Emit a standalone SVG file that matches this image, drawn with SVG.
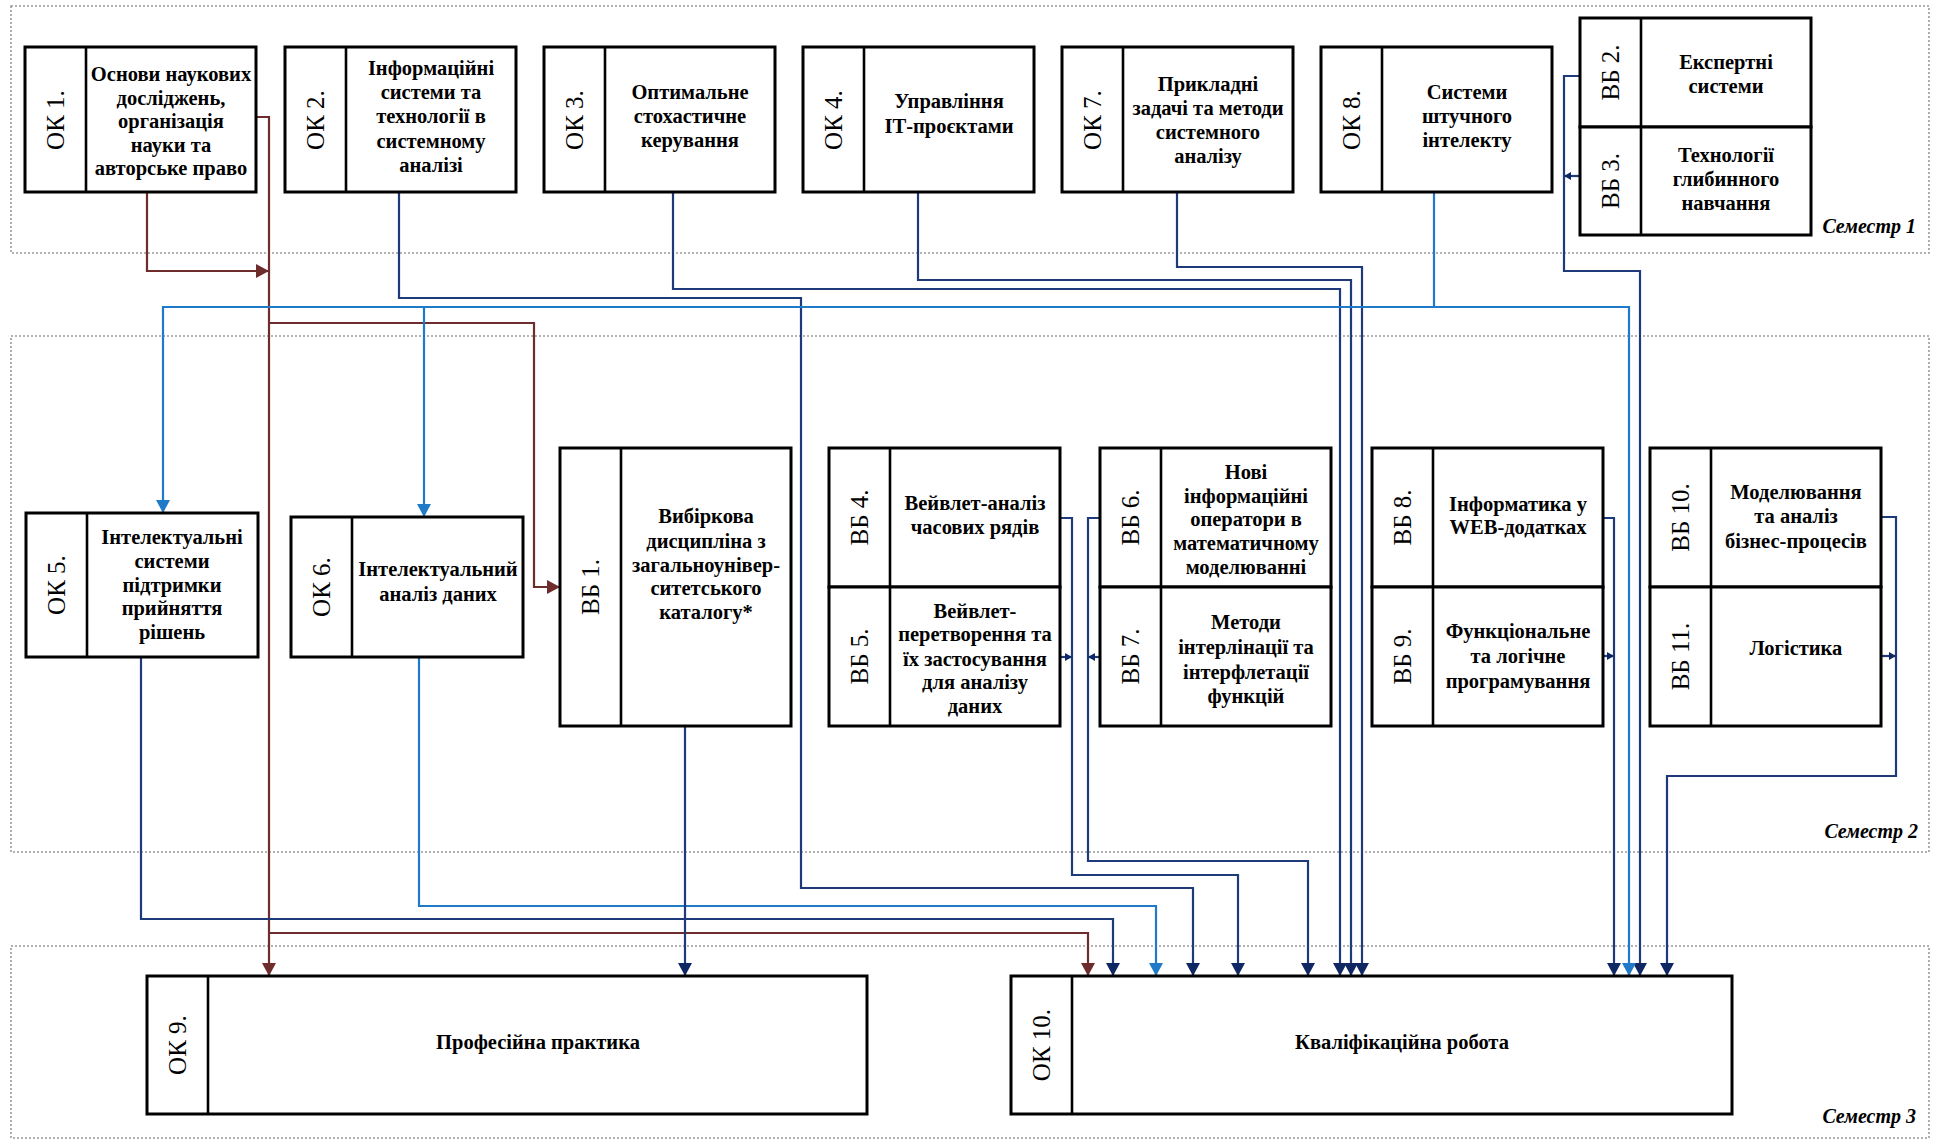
<svg xmlns="http://www.w3.org/2000/svg" width="1934" height="1140" viewBox="0 0 1934 1140">
<style>
.sem{fill:none;stroke:#9a9a9a;stroke-width:1.6;stroke-dasharray:2 2}
.semt{font-family:"Liberation Serif","Times New Roman","DejaVu Serif",serif;font-style:italic;font-weight:bold;font-size:20px;fill:#000;text-anchor:end}
.box{fill:#fff;stroke:#000;stroke-width:3}
.div{stroke:#000;stroke-width:2.6}
.t{font-family:"Liberation Serif","Times New Roman","DejaVu Serif",serif;font-weight:bold;font-size:20.5px;fill:#000;text-anchor:middle}
.lb{font-family:"Liberation Serif","Times New Roman","DejaVu Serif",serif;font-size:25px;fill:#000;text-anchor:middle}
.c{fill:none;stroke-width:2.2}
.br{stroke:#6f2c2c}
.nv{stroke:#1f3a78}
.lbl{stroke:#1f7bc8}
</style>
<defs>
<marker id="aBr" markerUnits="userSpaceOnUse" markerWidth="14" markerHeight="14" refX="13" refY="7" orient="auto"><path d="M0,0 L13,7 L0,14 z" fill="#6f2c2c"/></marker>
<marker id="aNv" markerUnits="userSpaceOnUse" markerWidth="14" markerHeight="14" refX="13" refY="7" orient="auto"><path d="M0,0 L13,7 L0,14 z" fill="#0f2763"/></marker>
<marker id="aLb" markerUnits="userSpaceOnUse" markerWidth="14" markerHeight="14" refX="13" refY="7" orient="auto"><path d="M0,0 L13,7 L0,14 z" fill="#1f7bc8"/></marker>
<marker id="sNv" markerUnits="userSpaceOnUse" markerWidth="8" markerHeight="8" refX="7" refY="4" orient="auto"><path d="M0,0 L7,4 L0,8 z" fill="#0f2763"/></marker>
</defs>

<g id="semesters">
<rect class="sem" x="11" y="6" width="1918" height="247"/>
<rect class="sem" x="11" y="336" width="1918" height="516"/>
<rect class="sem" x="11" y="946" width="1918" height="192"/>
<text class="semt" x="1916" y="233">Семестр 1</text>
<text class="semt" x="1918" y="838">Семестр 2</text>
<text class="semt" x="1916" y="1123">Семестр 3</text>
</g>

<g id="connectors">
<path class="c br" d="M147,192 V271 H269" marker-end="url(#aBr)"/>
<path class="c br" d="M257,117 H269 V976" marker-end="url(#aBr)"/>
<path class="c br" d="M269,323 H534 V587 H560" marker-end="url(#aBr)"/>
<path class="c br" d="M269,933 H1088 V976" marker-end="url(#aBr)"/>

<path class="c nv" d="M399,192 V298 H801 V888 H1193 V976" marker-end="url(#aNv)"/>
<path class="c nv" d="M673,192 V289 H1340 V976" marker-end="url(#aNv)"/>
<path class="c nv" d="M918,192 V280 H1351 V976" marker-end="url(#aNv)"/>
<path class="c nv" d="M1177,192 V267 H1362 V976" marker-end="url(#aNv)"/>
<path class="c nv" d="M1580,76 H1564 V271 H1640 V976" marker-end="url(#aNv)"/>
<path class="c nv" d="M1580,176 H1564" marker-end="url(#sNv)"/>

<path class="c lbl" d="M1434,192 V307 H163 V513" marker-end="url(#aLb)"/>
<path class="c lbl" d="M424,307 V517" marker-end="url(#aLb)"/>
<path class="c lbl" d="M1434,307 H1629 V976" marker-end="url(#aLb)"/>
<path class="c lbl" d="M419,657 V906 H1156 V976" marker-end="url(#aLb)"/>

<path class="c nv" d="M141,657 V919 H1113 V976" marker-end="url(#aNv)"/>
<path class="c nv" d="M685,726 V976" marker-end="url(#aNv)"/>
<path class="c nv" d="M1060,518 H1072 V875 H1238 V976" marker-end="url(#aNv)"/>
<path class="c nv" d="M1060,657 H1072" marker-end="url(#sNv)"/>
<path class="c nv" d="M1100,518 H1088 V861 H1308 V976" marker-end="url(#aNv)"/>
<path class="c nv" d="M1100,657 H1088" marker-end="url(#sNv)"/>
<path class="c nv" d="M1603,518 H1614 V976" marker-end="url(#aNv)"/>
<path class="c nv" d="M1603,656 H1614" marker-end="url(#sNv)"/>
<path class="c nv" d="M1881,517 H1896 V776 H1667 V976" marker-end="url(#aNv)"/>
<path class="c nv" d="M1881,656 H1896" marker-end="url(#sNv)"/>
</g>

<g id="ok1">
<rect class="box" x="25" y="47" width="231" height="145"/><line class="div" x1="86" y1="47" x2="86" y2="192"/>
<text class="lb" x="55.5" y="128" transform="rotate(-90 55.5 120)">ОК 1.</text>
<text class="t" x="171" y="81">Основи наукових</text>
<text class="t" x="171" y="105">досліджень,</text>
<text class="t" x="171" y="128">організація</text>
<text class="t" x="171" y="152">науки та</text>
<text class="t" x="171" y="175">авторське право</text>
</g>

<g id="ok2">
<rect class="box" x="285" y="47" width="231" height="145"/><line class="div" x1="346" y1="47" x2="346" y2="192"/>
<text class="lb" x="315.5" y="128" transform="rotate(-90 315.5 120)">ОК 2.</text>
<text class="t" x="431" y="75">Інформаційні</text>
<text class="t" x="431" y="99">системи та</text>
<text class="t" x="431" y="123">технології в</text>
<text class="t" x="431" y="148">системному</text>
<text class="t" x="431" y="172">аналізі</text>
</g>

<g id="ok3">
<rect class="box" x="544" y="47" width="231" height="145"/><line class="div" x1="605" y1="47" x2="605" y2="192"/>
<text class="lb" x="574.5" y="128" transform="rotate(-90 574.5 120)">ОК 3.</text>
<text class="t" x="690" y="99">Оптимальне</text>
<text class="t" x="690" y="123">стохастичне</text>
<text class="t" x="690" y="147">керування</text>
</g>

<g id="ok4">
<rect class="box" x="803" y="47" width="231" height="145"/><line class="div" x1="864" y1="47" x2="864" y2="192"/>
<text class="lb" x="833.5" y="128" transform="rotate(-90 833.5 120)">ОК 4.</text>
<text class="t" x="949" y="108">Управління</text>
<text class="t" x="949" y="133">ІТ-проєктами</text>
</g>

<g id="ok7">
<rect class="box" x="1062" y="47" width="231" height="145"/><line class="div" x1="1123" y1="47" x2="1123" y2="192"/>
<text class="lb" x="1092.5" y="128" transform="rotate(-90 1092.5 120)">ОК 7.</text>
<text class="t" x="1208" y="91">Прикладні</text>
<text class="t" x="1208" y="115">задачі та методи</text>
<text class="t" x="1208" y="139">системного</text>
<text class="t" x="1208" y="163">аналізу</text>
</g>

<g id="ok8">
<rect class="box" x="1321" y="47" width="231" height="145"/><line class="div" x1="1382" y1="47" x2="1382" y2="192"/>
<text class="lb" x="1351.5" y="128" transform="rotate(-90 1351.5 120)">ОК 8.</text>
<text class="t" x="1467" y="99">Системи</text>
<text class="t" x="1467" y="123">штучного</text>
<text class="t" x="1467" y="147">інтелекту</text>
</g>

<g id="vb2">
<rect class="box" x="1580" y="18" width="231" height="109"/><line class="div" x1="1641" y1="18" x2="1641" y2="127"/>
<text class="lb" x="1610.5" y="80.5" transform="rotate(-90 1610.5 72.5)">ВБ 2.</text>
<text class="t" x="1726" y="69">Експертні</text>
<text class="t" x="1726" y="93">системи</text>
</g>

<g id="vb3">
<rect class="box" x="1580" y="127" width="231" height="108"/><line class="div" x1="1641" y1="127" x2="1641" y2="235"/>
<text class="lb" x="1610.5" y="189" transform="rotate(-90 1610.5 181)">ВБ 3.</text>
<text class="t" x="1726" y="162">Технології</text>
<text class="t" x="1726" y="186">глибинного</text>
<text class="t" x="1726" y="210">навчання</text>
</g>

<g id="ok5">
<rect class="box" x="26" y="513" width="232" height="144"/><line class="div" x1="87" y1="513" x2="87" y2="657"/>
<text class="lb" x="56.5" y="593" transform="rotate(-90 56.5 585)">ОК 5.</text>
<text class="t" x="172" y="544">Інтелектуальні</text>
<text class="t" x="172" y="568">системи</text>
<text class="t" x="172" y="592">підтримки</text>
<text class="t" x="172" y="615">прийняття</text>
<text class="t" x="172" y="639">рішень</text>
</g>

<g id="ok6">
<rect class="box" x="291" y="517" width="232" height="140"/><line class="div" x1="352" y1="517" x2="352" y2="657"/>
<text class="lb" x="321.5" y="595" transform="rotate(-90 321.5 587)">ОК 6.</text>
<text class="t" x="438" y="576">Інтелектуальний</text>
<text class="t" x="438" y="601">аналіз даних</text>
</g>

<g id="vb1">
<rect class="box" x="560" y="448" width="231" height="278"/><line class="div" x1="621" y1="448" x2="621" y2="726"/>
<text class="lb" x="590.5" y="595" transform="rotate(-90 590.5 587)">ВБ 1.</text>
<text class="t" x="706" y="523">Вибіркова</text>
<text class="t" x="706" y="548">дисципліна з</text>
<text class="t" x="706" y="572">загальноунівер-</text>
<text class="t" x="706" y="595">ситетського</text>
<text class="t" x="706" y="619">каталогу*</text>
</g>

<g id="vb4">
<rect class="box" x="829" y="448" width="231" height="139"/><line class="div" x1="890" y1="448" x2="890" y2="587"/>
<text class="lb" x="859.5" y="525.5" transform="rotate(-90 859.5 517.5)">ВБ 4.</text>
<text class="t" x="975" y="510">Вейвлет-аналіз</text>
<text class="t" x="975" y="534">часових рядів</text>
</g>

<g id="vb5">
<rect class="box" x="829" y="587" width="231" height="139"/><line class="div" x1="890" y1="587" x2="890" y2="726"/>
<text class="lb" x="859.5" y="664.5" transform="rotate(-90 859.5 656.5)">ВБ 5.</text>
<text class="t" x="975" y="618">Вейвлет-</text>
<text class="t" x="975" y="641">перетворення та</text>
<text class="t" x="975" y="666">їх застосування</text>
<text class="t" x="975" y="689">для аналізу</text>
<text class="t" x="975" y="713">даних</text>
</g>

<g id="vb6">
<rect class="box" x="1100" y="448" width="231" height="139"/><line class="div" x1="1161" y1="448" x2="1161" y2="587"/>
<text class="lb" x="1130.5" y="525.5" transform="rotate(-90 1130.5 517.5)">ВБ 6.</text>
<text class="t" x="1246" y="479">Нові</text>
<text class="t" x="1246" y="503">інформаційні</text>
<text class="t" x="1246" y="526">оператори в</text>
<text class="t" x="1246" y="550">математичному</text>
<text class="t" x="1246" y="574">моделюванні</text>
</g>

<g id="vb7">
<rect class="box" x="1100" y="587" width="231" height="139"/><line class="div" x1="1161" y1="587" x2="1161" y2="726"/>
<text class="lb" x="1130.5" y="664.5" transform="rotate(-90 1130.5 656.5)">ВБ 7.</text>
<text class="t" x="1246" y="629">Методи</text>
<text class="t" x="1246" y="654">інтерлінації та</text>
<text class="t" x="1246" y="679">інтерфлетації</text>
<text class="t" x="1246" y="703">функцій</text>
</g>

<g id="vb8">
<rect class="box" x="1372" y="448" width="231" height="139"/><line class="div" x1="1433" y1="448" x2="1433" y2="587"/>
<text class="lb" x="1402.5" y="525.5" transform="rotate(-90 1402.5 517.5)">ВБ 8.</text>
<text class="t" x="1518" y="511">Інформатика у</text>
<text class="t" x="1518" y="534">WEB-додатках</text>
</g>

<g id="vb9">
<rect class="box" x="1372" y="587" width="231" height="139"/><line class="div" x1="1433" y1="587" x2="1433" y2="726"/>
<text class="lb" x="1402.5" y="664.5" transform="rotate(-90 1402.5 656.5)">ВБ 9.</text>
<text class="t" x="1518" y="638">Функціональне</text>
<text class="t" x="1518" y="663">та логічне</text>
<text class="t" x="1518" y="688">програмування</text>
</g>

<g id="vb10">
<rect class="box" x="1650" y="448" width="231" height="139"/><line class="div" x1="1711" y1="448" x2="1711" y2="587"/>
<text class="lb" x="1680.5" y="525.5" transform="rotate(-90 1680.5 517.5)">ВБ 10.</text>
<text class="t" x="1796" y="499">Моделювання</text>
<text class="t" x="1796" y="523">та аналіз</text>
<text class="t" x="1796" y="548">бізнес-процесів</text>
</g>

<g id="vb11">
<rect class="box" x="1650" y="587" width="231" height="139"/><line class="div" x1="1711" y1="587" x2="1711" y2="726"/>
<text class="lb" x="1680.5" y="664.5" transform="rotate(-90 1680.5 656.5)">ВБ 11.</text>
<text class="t" x="1796" y="655">Логістика</text>
</g>

<g id="ok9">
<rect class="box" x="147" y="976" width="720" height="138"/><line class="div" x1="208" y1="976" x2="208" y2="1114"/>
<text class="lb" x="177.5" y="1053" transform="rotate(-90 177.5 1045)">ОК 9.</text>
<text class="t" x="538" y="1049">Професійна практика</text>
</g>

<g id="ok10">
<rect class="box" x="1011" y="976" width="721" height="138"/><line class="div" x1="1072" y1="976" x2="1072" y2="1114"/>
<text class="lb" x="1041.5" y="1053" transform="rotate(-90 1041.5 1045)">ОК 10.</text>
<text class="t" x="1402" y="1049">Кваліфікаційна робота</text>
</g>
</svg>
